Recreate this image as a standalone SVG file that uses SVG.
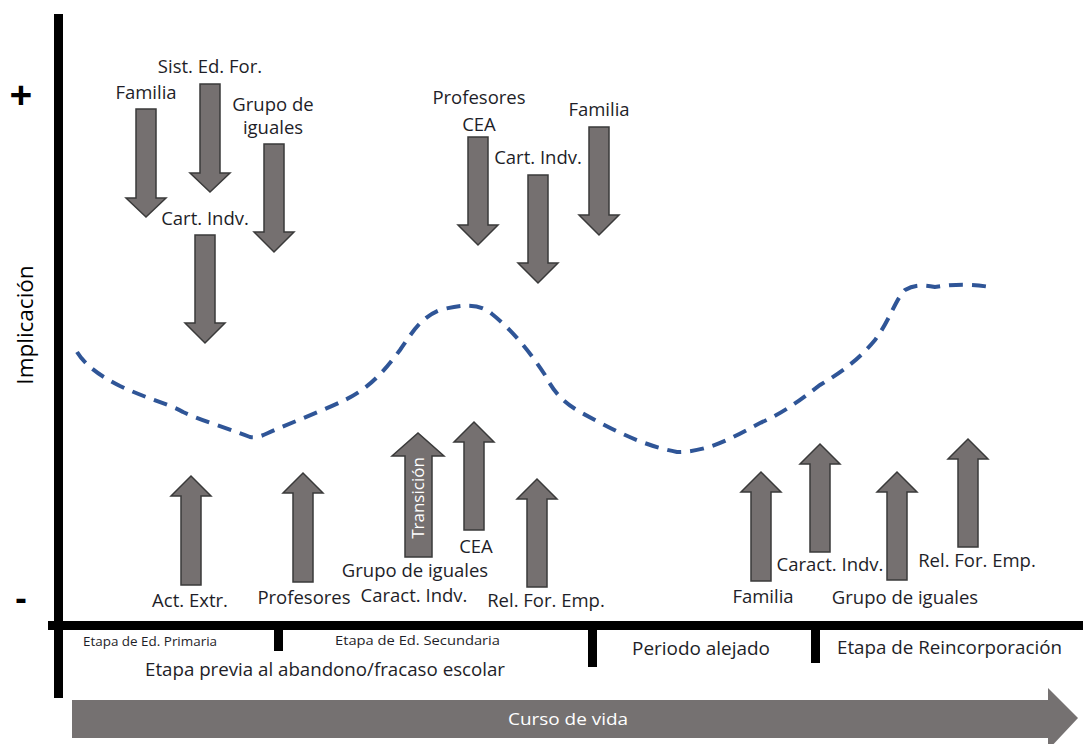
<svg xmlns="http://www.w3.org/2000/svg" width="1083" height="744" viewBox="0 0 1083 744">
<style>
.ar{fill:#757070;stroke:#3a3a3a;stroke-width:1.5;stroke-linejoin:miter}
.lb{font-family:"Open Sans","Liberation Sans",sans-serif;font-size:18.5px;fill:#1e1e28;text-anchor:middle}
.sm{font-family:"Open Sans","Liberation Sans",sans-serif;font-size:13px;fill:#1e1e28}
.md{font-family:"Open Sans","Liberation Sans",sans-serif;font-size:18px;fill:#1e1e28}
.ax{fill:#000}
</style>
<rect width="1083" height="744" fill="#fff"/>
<g id="axes">
<rect class="ax" x="54" y="14" width="9" height="684"/>
<rect class="ax" x="48" y="621" width="1035" height="9"/>
<rect class="ax" x="274" y="628" width="9" height="23"/>
<rect class="ax" x="588" y="628" width="9" height="39"/>
<rect class="ax" x="811" y="628" width="9" height="35"/>
<text x="21" y="109" font-family="Open Sans,sans-serif" font-size="40" font-weight="bold" text-anchor="middle" fill="#000">+</text>
<text x="21" y="610" font-family="Open Sans,sans-serif" font-size="34" font-weight="bold" text-anchor="middle" fill="#000">-</text>
<text transform="translate(33,325) rotate(-90)" font-family="Open Sans,sans-serif" font-size="22.5" text-anchor="middle" fill="#000">Implicación</text>
</g>
<g id="stages">
<text class="sm" x="83" y="646" textLength="134" lengthAdjust="spacingAndGlyphs">Etapa de Ed. Primaria</text>
<text class="sm" x="335" y="645" textLength="165" lengthAdjust="spacingAndGlyphs">Etapa de Ed. Secundaria</text>
<text class="md" x="145" y="676" textLength="360" lengthAdjust="spacingAndGlyphs">Etapa previa al abandono/fracaso escolar</text>
<text class="md" x="632" y="655" textLength="138" lengthAdjust="spacingAndGlyphs">Periodo alejado</text>
<text class="md" x="837" y="654" textLength="225" lengthAdjust="spacingAndGlyphs">Etapa de Reincorporación</text>
</g>
<g id="curso">
<polygon points="72,700 1048,700 1048,688 1078,718 1048,750 1048,738 72,738" fill="#757171"/>
<text x="508" y="725" font-family="Open Sans,sans-serif" font-size="17" fill="#fff" textLength="120" lengthAdjust="spacingAndGlyphs">Curso de vida</text>
</g>
<g id="curve">
<path d="M77,352 C85,365 100,376 120,386 C150,400 172,405 183,412 C200,420 235,431 250,437 C256,438 262,436 268,433 C285,425 320,412 345,400 C370,388 385,370 400,350 C412,333 420,318 440,310 C460,305 478,302 492,314 C512,330 530,352 545,375 C553,390 560,400 580,412 C610,428 640,445 677,452 C710,452 735,436 760,423 C785,412 800,400 820,385 C845,370 860,358 875,340 C890,320 895,300 905,290 C915,284 925,285 935,287 C950,285 965,283 990,287" fill="none" stroke="#2f5597" stroke-width="4" stroke-dasharray="14,9"/>
</g>
<g id="connectors">
<g id="d-familia-1"><polygon class="ar" points="136,109 156,109 156,198 166,198 146,217 126,198 136,198"/><text class="lb" x="146" y="99">Familia</text></g>
<g id="d-sist"><polygon class="ar" points="200,84 220,84 220,173 230,173 210,192 190,173 200,173"/><text class="lb" x="210" y="73">Sist. Ed. For.</text></g>
<g id="d-grupo"><polygon class="ar" points="264,144 284,144 284,232 294,232 274,252 254,232 264,232"/><text class="lb" x="273" y="111">Grupo de</text><text class="lb" x="273" y="134">iguales</text></g>
<g id="d-cart-1"><polygon class="ar" points="195,235 215,235 215,323 225,323 205,343 185,323 195,323"/><text class="lb" x="205" y="225">Cart. Indv.</text></g>
<g id="d-cea"><polygon class="ar" points="468,137 488,137 488,225 498,225 478,245 458,225 468,225"/><text class="lb" x="479" y="104">Profesores</text><text class="lb" x="479" y="131">CEA</text></g>
<g id="d-cart-2"><polygon class="ar" points="528,175 548,175 548,263 558,263 538,283 518,263 528,263"/><text class="lb" x="538" y="164">Cart. Indv.</text></g>
<g id="d-familia-2"><polygon class="ar" points="589,127 609,127 609,215 619,215 599,235 579,215 589,215"/><text class="lb" x="599" y="116">Familia</text></g>
<g id="u-act"><polygon class="ar" points="181,585 201,585 201,496 211,496 191,476 171,496 181,496"/><text class="lb" x="190" y="607">Act. Extr.</text></g>
<g id="u-prof"><polygon class="ar" points="293,582 313,582 313,493 323,493 303,473 283,493 293,493"/><text class="lb" x="304" y="604">Profesores</text></g>
<g id="u-trans"><polygon class="ar" points="405,557 432,557 432,456 444,456 418,433 392,456 405,456"/><text transform="translate(424,498) rotate(-90)" font-family="Open Sans,sans-serif" font-size="17" fill="#fff" text-anchor="middle">Transición</text><text class="lb" x="415" y="577">Grupo de iguales</text><text class="lb" x="414" y="602">Caract. Indv.</text></g>
<g id="u-cea"><polygon class="ar" points="464,530 484,530 484,442 494,442 474,422 454,442 464,442"/><text class="lb" x="476" y="553">CEA</text></g>
<g id="u-rel-1"><polygon class="ar" points="527,587 547,587 547,499 557,499 537,479 517,499 527,499"/><text class="lb" x="546" y="607">Rel. For. Emp.</text></g>
<g id="u-familia"><polygon class="ar" points="751,581 771,581 771,492 781,492 761,472 741,492 751,492"/><text class="lb" x="763" y="603">Familia</text></g>
<g id="u-caract"><polygon class="ar" points="810,552 830,552 830,464 840,464 820,444 800,464 810,464"/><text class="lb" x="830" y="571">Caract. Indv.</text></g>
<g id="u-grupo"><polygon class="ar" points="887,580 907,580 907,492 917,492 897,472 877,492 887,492"/><text class="lb" x="905" y="604">Grupo de iguales</text></g>
<g id="u-rel-2"><polygon class="ar" points="958,547 978,547 978,459 988,459 968,439 948,459 958,459"/><text class="lb" x="977" y="567">Rel. For. Emp.</text></g>
</g>
</svg>
